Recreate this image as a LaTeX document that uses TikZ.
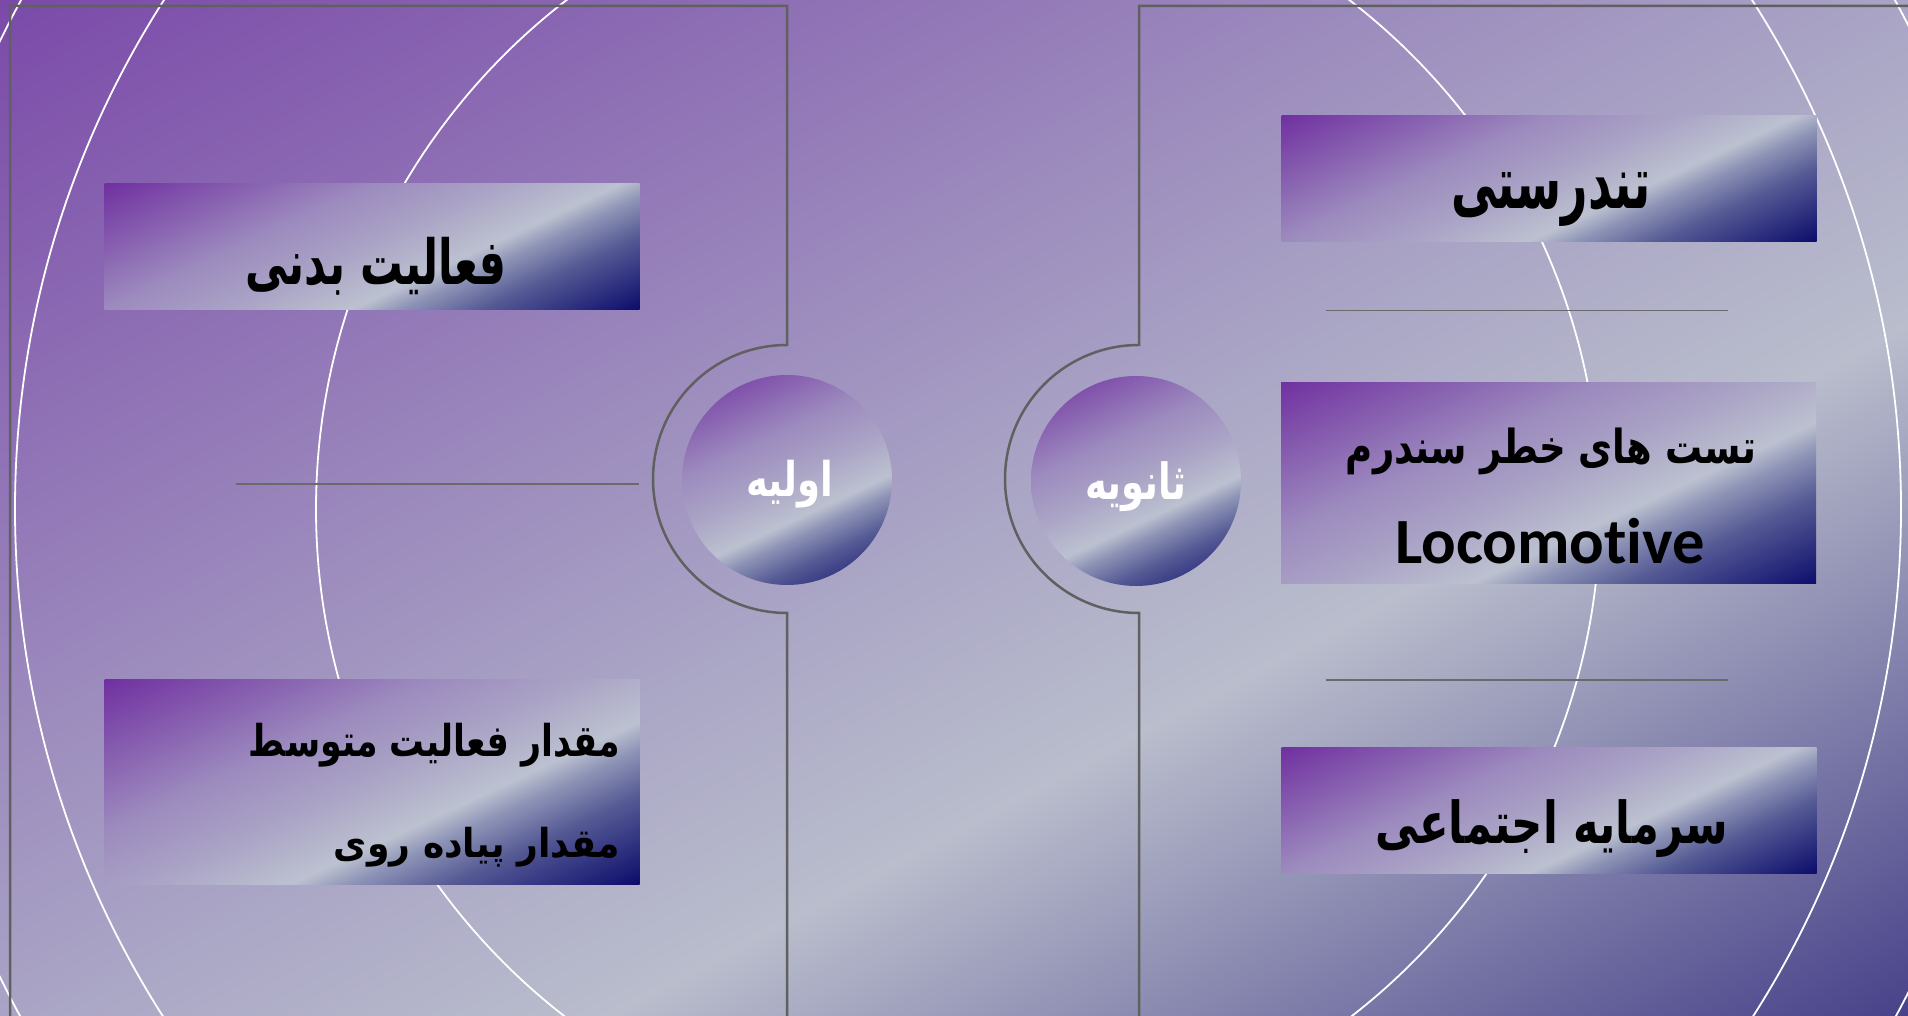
\documentclass[tikz,border=0pt]{standalone}
\usepackage{fontspec}
\usepackage{graphicx}
\TeXXeTstate=1
\newfontfamily\arabicfont[Script=Arabic]{DejaVu Sans}
\newfontfamily\latinfont[Ligatures=NoCommon]{Carlito}
\definecolor{g0}{HTML}{7030A0}
\definecolor{g1}{HTML}{9C8ABE}
\definecolor{g2}{HTML}{ABA5C6}
\definecolor{g3}{HTML}{BCC1D0}
\definecolor{gx}{HTML}{8E94B6}
\definecolor{g4}{HTML}{565B95}
\definecolor{g5}{HTML}{0B0B6B}
\definecolor{b0}{HTML}{7B4AA9}
\definecolor{b1}{HTML}{A9A4C5}
\definecolor{b2}{HTML}{B9BDCC}
\definecolor{b3}{HTML}{48428A}
\definecolor{frmgray}{HTML}{606060}
\definecolor{sepgray}{HTML}{6A6A6A}
\pgfdeclarehorizontalshading{shA}{100bp}{color(0bp)=(g0); color(34.25bp)=(g0); color(44.64bp)=(g1); color(50bp)=(g2); color(54.41bp)=(g3); color(56.30bp)=(gx); color(59.45bp)=(g4); color(65.76bp)=(g5); color(100bp)=(g5)}
\pgfdeclarehorizontalshading{shB}{100bp}{color(0bp)=(g0); color(30.93bp)=(g0); color(43.52bp)=(g1); color(50bp)=(g2); color(55.34bp)=(g3); color(57.63bp)=(gx); color(61.44bp)=(g4); color(69.07bp)=(g5); color(100bp)=(g5)}
\pgfdeclarehorizontalshading{shC}{100bp}{color(0bp)=(g0); color(16.78bp)=(g0); color(38.71bp)=(g1); color(50bp)=(g2); color(59.30bp)=(g3); color(63.29bp)=(gx); color(69.93bp)=(g4); color(83.22bp)=(g5); color(100bp)=(g5)}
\pgfdeclarehorizontalshading{shBG}{100bp}{color(0bp)=(b0); color(26.51bp)=(b0); color(50bp)=(b1); color(57.52bp)=(b2); color(73.49bp)=(b3); color(100bp)=(b3)}
\newcommand{\fa}[3]{\resizebox*{#1pt}{#2pt}{\arabicfont\bfseries #3}}
\tikzset{
  frm/.style={draw=frmgray, line width=2.5pt},
  sepline/.style={draw=sepgray, line width=1.5pt},
  ring/.style={draw=white, line width=1.8pt},
  gradbox/.style 2 args={rectangle, inner sep=0pt, outer sep=0pt, minimum width=535pt, minimum height=#1,
    path picture={\shade[shading=#2, shading angle=-65] ([shift={(-270,-270)}]path picture bounding box.center) rectangle ([shift={(270,270)}]path picture bounding box.center);}},
  disc/.style={circle, inner sep=0pt, outer sep=0pt, minimum size=210pt,
    path picture={\shade[shading=shC, shading angle=-65] ([shift={(-105,-105)}]path picture bounding box.center) rectangle ([shift={(105,105)}]path picture bounding box.center);}},
  txt/.style={inner sep=0pt, outer sep=0pt, text=black},
  wtxt/.style={inner sep=0pt, outer sep=0pt, text=white}
}
\begin{document}
\begin{tikzpicture}[x=1pt, y=1pt]
\useasboundingbox (0,0) rectangle (1908,1016);
% background
\begin{scope}
\clip (0,0) rectangle (1908,1016);
\shade[shading=shBG, shading angle=-62] (0,-446) rectangle (1908,1462);
% white rings
\draw[ring] (958,507) circle[radius=642];
\draw[ring] (958,507) circle[radius=943];
\draw[ring] (958,507) circle[radius=1066];
% frames
\draw[frm] (10,-20) -- (10,1010) -- (787,1010) -- (787,671)
  arc[start angle=90, end angle=270, radius=134] -- (787,-20);
\draw[frm] (1930,1010) -- (1139,1010) -- (1139,671)
  arc[start angle=90, end angle=270, radius=134] -- (1139,-20);
\end{scope}
% separators
\coordinate (sl1) at (236,532);
\coordinate (sl2) at (639,532);
\coordinate (sr1) at (1326,705.5);
\coordinate (sr2) at (1728,705.5);
\coordinate (sr3) at (1326,336);
\coordinate (sr4) at (1728,336);
\draw[sepline] (sl1) -- (sl2);
\draw[sepline] (sr1) -- (sr2);
\draw[sepline] (sr3) -- (sr4);
% boxes
\node[gradbox={126pt}{shA}] (b1) at (372,769) {};
\node[gradbox={205pt}{shB}] (b2) at (372,233.5) {};
\node[gradbox={126pt}{shA}] (b3) at (1549,837) {};
\node[gradbox={201pt}{shB}] (b4) at (1548.5,532.5) {};
\node[gradbox={126pt}{shA}] (b5) at (1549,205) {};
% discs
\node[disc] (c1) at (787,536) {};
\node[disc] (c2) at (1136,535) {};
% texts
\node[txt] (t1) at (376,750) {\fa{261}{58}{\beginR فعالیت بدنی\endR}};
\node[txt, anchor=east] (t2a) at (620,271) {\fa{371}{44}{\beginR مقدار فعالیت متوسط\endR}};
\node[txt, anchor=east] (t2b) at (620,169) {\fa{286}{40}{\beginR مقدار پیاده روی\endR}};
\node[txt] (t3) at (1551,816) {\fa{199}{54}{\beginR تندرستی\endR}};
\node[txt] (t4a) at (1551,564.5) {\fa{410}{47}{\beginR تست های خطر سندرم\endR}};
\node[txt] (t4b) at (1550,474.5) {\resizebox{310pt}{!}{\latinfont\bfseries Locomotive}};
\node[txt] (t5) at (1552,187) {\fa{353}{58}{\beginR سرمایه اجتماعی\endR}};
\node[wtxt] (tc1) at (789.5,532) {\fa{87}{48}{\beginR اولیه\endR}};
\node[wtxt] (tc2) at (1135.5,529) {\fa{101}{50}{\beginR ثانویه\endR}};
\end{tikzpicture}
\end{document}
